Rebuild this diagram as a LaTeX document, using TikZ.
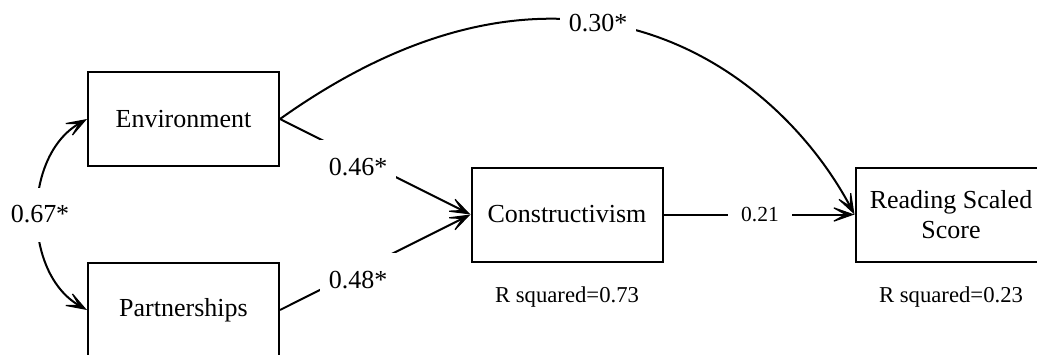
\documentclass[tikz,border=0pt]{standalone}
\usepackage{fontspec}
\setmainfont{Liberation Serif}
\usetikzlibrary{arrows.meta}
\begin{document}
\begin{tikzpicture}[x=1pt,y=-1pt,
  box/.style={draw,line width=2pt,minimum width=191pt,minimum height=94pt,inner sep=0pt,font=\fontsize{26}{30}\selectfont},
  tip/.tip={Stealth[length=27pt,width=19pt,inset=17pt,line width=1.2pt]},
  conn/.style={line width=2pt,-tip},
  lab/.style={fill=white,minimum width=76pt,minimum height=54pt,inner sep=0pt,font=\fontsize{26}{30}\selectfont},
  rsq/.style={font=\fontsize{22.7}{26}\selectfont,anchor=base,inner sep=0pt}]
\clip (0,0) rectangle (1037,354);
\node[box] (env) at (183.5,119) {Environment};
\node[box] (par) at (183.5,310) {Partnerships};
\node[box] (con) at (567,214.5) {Constructivism};
\node[box,align=center] (rea) at (951,214.5) {Reading Scaled\\Score};
% connectors
\draw[conn] (env.east) -- (con.west);
\draw[conn] (par.east) -- (con.west);
\draw[conn] (con.east) -- (rea.west);
\draw[conn] (env.east) .. controls +(295,-210) and +(-75,-141) .. (rea.west);
\draw[line width=2pt,tip-tip] (env.west) to[bend right=60] (par.west);
% labels
\node[lab] (l46) at (358,167) {0.46*};
\node[lab] (l48) at (358,280) {0.48*};
\node[lab] (l30) at (598,23) {0.30*};
\node[lab] (l67) at (40,214.5) {0.67*};
\node[lab,font=\fontsize{21.5}{26}\selectfont,minimum width=64pt] (l21) at (760,214.5) {0.21};
\node[rsq] (r1) at (567,302.5) {R squared=0.73};
\node[rsq] (r2) at (951,302.5) {R squared=0.23};
\end{tikzpicture}
\end{document}
